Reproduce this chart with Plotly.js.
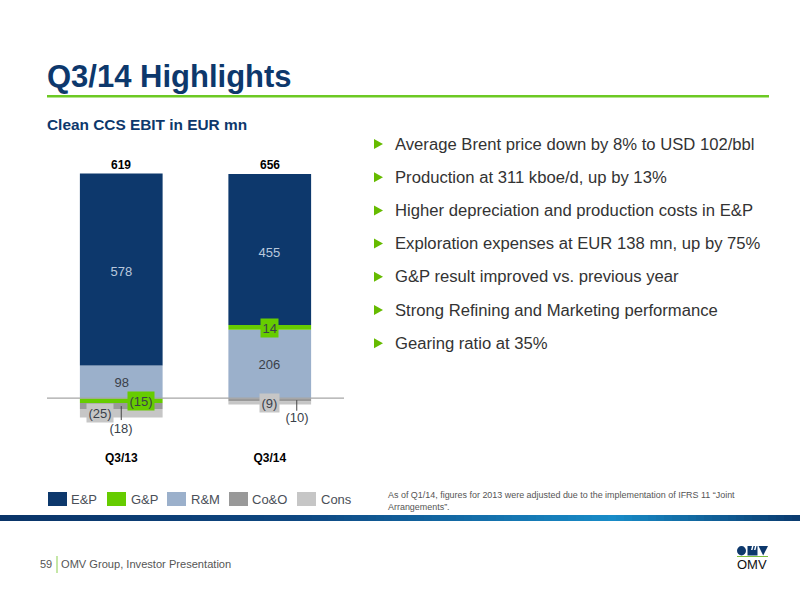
<!DOCTYPE html>
<html><head><meta charset="utf-8">
<script src="https://cdn.plot.ly/plotly-3.0.1.min.js"></script>
<style>html,body{margin:0;padding:0;background:#fff}#c{width:800px;height:600px}</style>
</head><body><div id="c"></div>
<script>
const categories = ['Q3/13', 'Q3/14'];
const ep  = [578, 455];
const gp  = [-15, 14];
const rm  = [98, 206];
const coo = [-18, -10];
const cons = [-25, -9];
const totals = [619, 656];
const seriesNames = ['E&P', 'G&P', 'R&M', 'Co&O', 'Cons'];
const seriesColors = ['#0d386c', '#66cc00', '#9bb0cb', '#999999', '#c6c6c6'];
const bullets = [
  'Average Brent price down by 8% to USD 102/bbl',
  'Production at 311 kboe/d, up by 13%',
  'Higher depreciation and production costs in E&P',
  'Exploration expenses at EUR 138 mn, up by 75%',
  'G&P result improved vs. previous year',
  'Strong Refining and Marketing performance',
  'Gearing ratio at 35%'
];
const FONT = '"Liberation Sans", Arial, sans-serif';
const NAVY = '#0d386c', TXT = '#3a3f4a';
const ML = 47, MR = 456, MT = 149, MB = 162;
const PW = 800 - ML - MR, PH = 600 - MT - MB;
const pxX = v => (v - ML) / PW;
const pxY = v => (600 - MB - v) / PH;

function bar(name, y, idx) {
  return {type: 'bar', name, x: categories, y, marker: {color: seriesColors[idx], line: {width: 0}},
          width: 0.557, hoverinfo: 'name+y', showlegend: false};
}
const data = [bar('R&M', rm, 2), bar('G&P', gp, 1), bar('Co&O', coo, 3), bar('Cons', cons, 4), bar('E&P', ep, 0)];

const fmt = v => v < 0 ? '(' + (-v) + ')' : String(v);
const ann = [], shapes = [];

function lab(i, y, v, opt) {
  ann.push(Object.assign({xref: 'x', yref: 'y', x: categories[i], y, text: fmt(v), showarrow: false,
    font: {family: FONT, size: 13, color: TXT}, borderpad: 1.5, xanchor: 'center', yanchor: 'middle'}, opt || {}));
}
// value labels
lab(0, rm[0] + ep[0] / 2, ep[0], {font: {family: FONT, size: 13, color: '#b9c8dc'}, yshift: -1});
lab(1, rm[1] + gp[1] + ep[1] / 2, ep[1], {font: {family: FONT, size: 13, color: '#b9c8dc'}, yshift: -3});
lab(0, rm[0] / 2, rm[0]);
lab(1, rm[1] / 2, rm[1]);
lab(0, gp[0] / 2, gp[0], {xshift: 20, yshift: 0, bgcolor: seriesColors[1]});
lab(1, rm[1] + gp[1] / 2, gp[1], {yshift: -1, bgcolor: seriesColors[1]});
lab(0, gp[0] + coo[0] + cons[0] / 2, cons[0], {xshift: -21, bgcolor: seriesColors[4]});
lab(0, gp[0] + coo[0] + cons[0], coo[0], {yshift: -11});
lab(1, coo[1], cons[1], {yshift: -2, bgcolor: seriesColors[4]});
lab(1, coo[1] + cons[1], coo[1], {xshift: 27, yshift: -13});
// totals
totals.forEach((t, i) => {
  const top = Math.max(rm[i], 0) + Math.max(gp[i], 0) + ep[i];
  ann.push({xref: 'x', yref: 'y', x: categories[i], y: top, yanchor: 'bottom', yshift: 0, text: String(t),
    showarrow: false, font: {family: FONT, size: 12, color: '#000', weight: 700}});
});
// leaders
shapes.push({type: 'line', xref: 'x', yref: 'y', x0: 0, x1: 0, y0: -24, y1: -66, line: {color: '#444', width: 1}});
shapes.push({type: 'line', xref: 'x', yref: 'y', x0: 1.0 + 27 / 148.5, x1: 1.0 + 27 / 148.5, y0: -6, y1: -38, line: {color: '#444', width: 1}});
// axis line above bars
shapes.push({type: 'line', xref: 'paper', yref: 'y', x0: 0, x1: 1, y0: 0, y1: 0, layer: 'above', line: {color: '#a6a6a6', width: 1.3}});

function pageText(x, y, text, size, color, extra) {
  ann.push(Object.assign({xref: 'paper', yref: 'paper', x: pxX(x), y: pxY(y), xanchor: 'left', yanchor: 'middle',
    text, showarrow: false, align: 'left', font: {family: FONT, size, color}, borderpad: 0, borderwidth: 0}, extra || {}));
}
function rect(x0, y0, x1, y1, color) {
  shapes.push({type: 'rect', xref: 'paper', yref: 'paper', x0: pxX(x0), x1: pxX(x1), y0: pxY(y0), y1: pxY(y1),
    fillcolor: color, line: {width: 0}});
}
function pathShape(d, color) {
  shapes.push({type: 'path', xref: 'paper', yref: 'paper', path: d, fillcolor: color, line: {width: 0}});
}
const P = (x, y) => pxX(x) + ',' + pxY(y);

// header
pageText(47, 77, 'Q3/14 Highlights', 31, NAVY, {font: {family: FONT, size: 31, color: NAVY, weight: 700}});
rect(47, 95, 769, 97.5, '#6cc923');
pageText(47, 124, 'Clean CCS EBIT in EUR mn', 15.4, NAVY, {font: {family: FONT, size: 15.4, color: NAVY, weight: 700}});

// bullets
bullets.forEach((b, i) => {
  const y = 144 + i * 33.2;
  pageText(395, y, b, 16.65, '#333333');
  pathShape('M' + P(374, y - 5) + ' L' + P(383, y) + ' L' + P(374, y + 5) + ' Z', '#66bb00');
});

// legend
const swatchX = [48, 107, 167, 229, 297], labelX = [71, 131, 191, 252, 321];
seriesNames.forEach((n, i) => {
  rect(swatchX[i], 492, swatchX[i] + 19, 506, seriesColors[i]);
  pageText(labelX[i], 499, n.replace('&', '&amp;'), 13, '#4a4f58');
});

// note
pageText(388, 495, 'As of Q1/14, figures for 2013 were adjusted due to the implementation of IFRS 11 “Joint', 8.95, '#555');
pageText(388, 507, 'Arrangements”.', 8.95, '#555');

// gradient band
const stops = [[0, [10, 52, 104]], [300, [14, 72, 130]], [610, [24, 140, 200]], [800, [10, 56, 108]]];
for (let x = 0; x < 800; x += 8) {
  let k = 0; while (k < stops.length - 2 && x >= stops[k + 1][0]) k++;
  const t = (x - stops[k][0]) / (stops[k + 1][0] - stops[k][0]);
  const c = stops[k][1].map((v, j) => Math.round(v + (stops[k + 1][1][j] - v) * t));
  rect(x, 515, x + 9, 521, 'rgb(' + c.join(',') + ')');
}

// footer
pageText(40, 563.5, '59', 11, '#555');
rect(56.5, 556, 57.5, 573, '#8ccf50');
pageText(61, 563.5, 'OMV Group, Investor Presentation', 11.1, '#555');

// logo
shapes.push({type: 'circle', xref: 'paper', yref: 'paper', x0: pxX(737), x1: pxX(746), y0: pxY(555.5), y1: pxY(546), fillcolor: NAVY, line: {width: 0}});
rect(747.5, 546, 757.5, 555.5, NAVY);
pathShape('M' + P(752, 546) + ' L' + P(751, 550) + ' L' + P(752.5, 550) + ' L' + P(753.5, 546) + ' Z', '#fff');
pathShape('M' + P(755, 546) + ' L' + P(754, 550) + ' L' + P(755.5, 550) + ' L' + P(756.5, 546) + ' Z', '#fff');
pathShape('M' + P(758.5, 546) + ' L' + P(768, 546) + ' L' + P(763.2, 555.5) + ' Z', NAVY);
rect(737, 556, 768, 557, '#7fbf3f');
pageText(737, 564, 'OMV', 13, '#111');

const layout = {
  width: 800, height: 600, autosize: false, paper_bgcolor: '#fff', plot_bgcolor: 'rgba(0,0,0,0)',
  margin: {l: ML, r: MR, t: MT, b: MB, pad: 0},
  barmode: 'relative', showlegend: false, font: {family: FONT},
  xaxis: {type: 'category', categoryorder: 'array', categoryarray: categories, range: [-0.5, 1.5],
    showgrid: false, showline: false, zeroline: false, ticks: '', ticklabelstandoff: 11,
    tickfont: {family: FONT, size: 12, color: '#000', weight: 700}},
  yaxis: {range: [-120, 750], visible: false, showgrid: false, zeroline: false, fixedrange: true},
  annotations: ann, shapes
};
Plotly.newPlot('c', data, layout, {displayModeBar: false, staticPlot: true});
</script></body></html>
